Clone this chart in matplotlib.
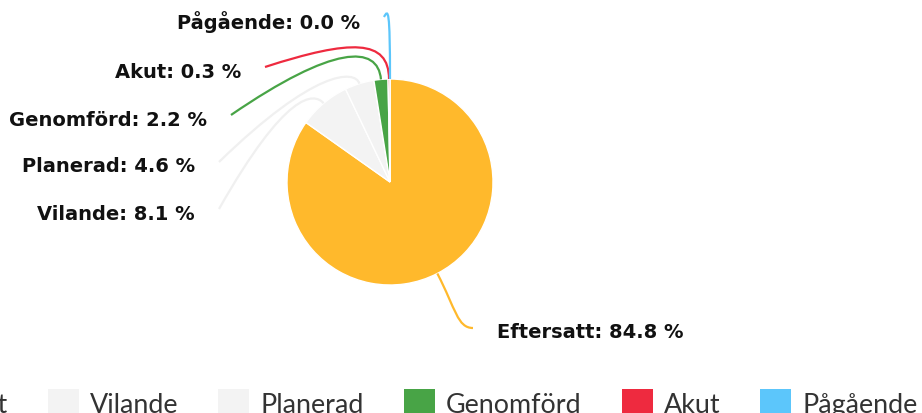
import numpy as np
import matplotlib.pyplot as plt
from matplotlib.path import Path
from matplotlib.patches import PathPatch, Patch

kategorier = ['Eftersatt', 'Vilande', 'Planerad', 'Genomförd', 'Akut', 'Pågående']
andelar = [84.8, 8.1, 4.6, 2.2, 0.3, 0.0]
farger = ['#ffb92c', '#f3f3f3', '#f3f3f3', '#48a446', '#ee2a3f', '#5cc6fb']
linjefarger = ['#ffb92c', '#f0f0f0', '#f0f0f0', '#48a446', '#ee2a3f', '#5cc6fb']

W, H = 922, 414
cx, cy, r = 390, H - 183, 103

# etiketter: x, y (pixlar, y uppifrån), justering, knälängd
etikett_x = [497, 195, 195, 207, 241, 360]
etikett_y = [333, 214, 167, 120, 72, 22]
justering = ['left', 'right', 'right', 'right', 'right', 'right']
knä = [40, 15, 15, 35, 40, 70]

plt.rcParams['font.family'] = ['DejaVu Sans']
fig = plt.figure(figsize=(W / 100, H / 100), dpi=100)
ax = fig.add_axes([0, 0, 1, 1])

wedges, _ = ax.pie(andelar, colors=farger, startangle=90, counterclock=False,
                   center=(cx, cy), radius=r,
                   wedgeprops=dict(edgecolor='white', linewidth=1))
ax.set_xlim(0, W)
ax.set_ylim(0, H)
ax.set_aspect('equal')
ax.axis('off')

for i, w in enumerate(wedges):
    mid = np.deg2rad((w.theta1 + w.theta2) / 2)
    d = np.array([np.cos(mid), np.sin(mid)])
    p0 = np.array([cx, cy]) + d * r
    p1 = np.array([cx, cy]) + d * (r + knä[i])
    sgn = 1 if justering[i] == 'right' else -1
    p3 = np.array([etikett_x[i] + sgn * 24, H - etikett_y[i] + 4])
    if i == 0:
        p2 = np.array([p1[0] + 0.1 * (p3[0] - p1[0]), p3[1]])
    else:
        p2 = np.array([p1[0] + 0.3 * (p3[0] - p1[0]), p1[1]])
    path = Path([p0, p1, p2, p3], [Path.MOVETO, Path.CURVE4, Path.CURVE4, Path.CURVE4])
    ax.add_patch(PathPatch(path, fill=False, edgecolor=linjefarger[i], linewidth=1.6))
    ax.text(etikett_x[i], H - etikett_y[i], f'{kategorier[i]}: {andelar[i]:.1f} %',
            ha=justering[i], va='center', fontsize=14, fontweight='bold', color='#111111')

handles = [Patch(facecolor=c, edgecolor='none') for c in farger]
fig.legend(handles, kategorier, loc='center', bbox_to_anchor=(cx / W, 1 - 404 / H),
           ncol=6, frameon=False, handlelength=1.15, handleheight=1.15,
           handletextpad=0.41, columnspacing=1.49, borderpad=0,
           prop=dict(family='Lato', weight='normal', size=19.4), labelcolor='#333333')

fig.savefig('out.png', dpi=100)
